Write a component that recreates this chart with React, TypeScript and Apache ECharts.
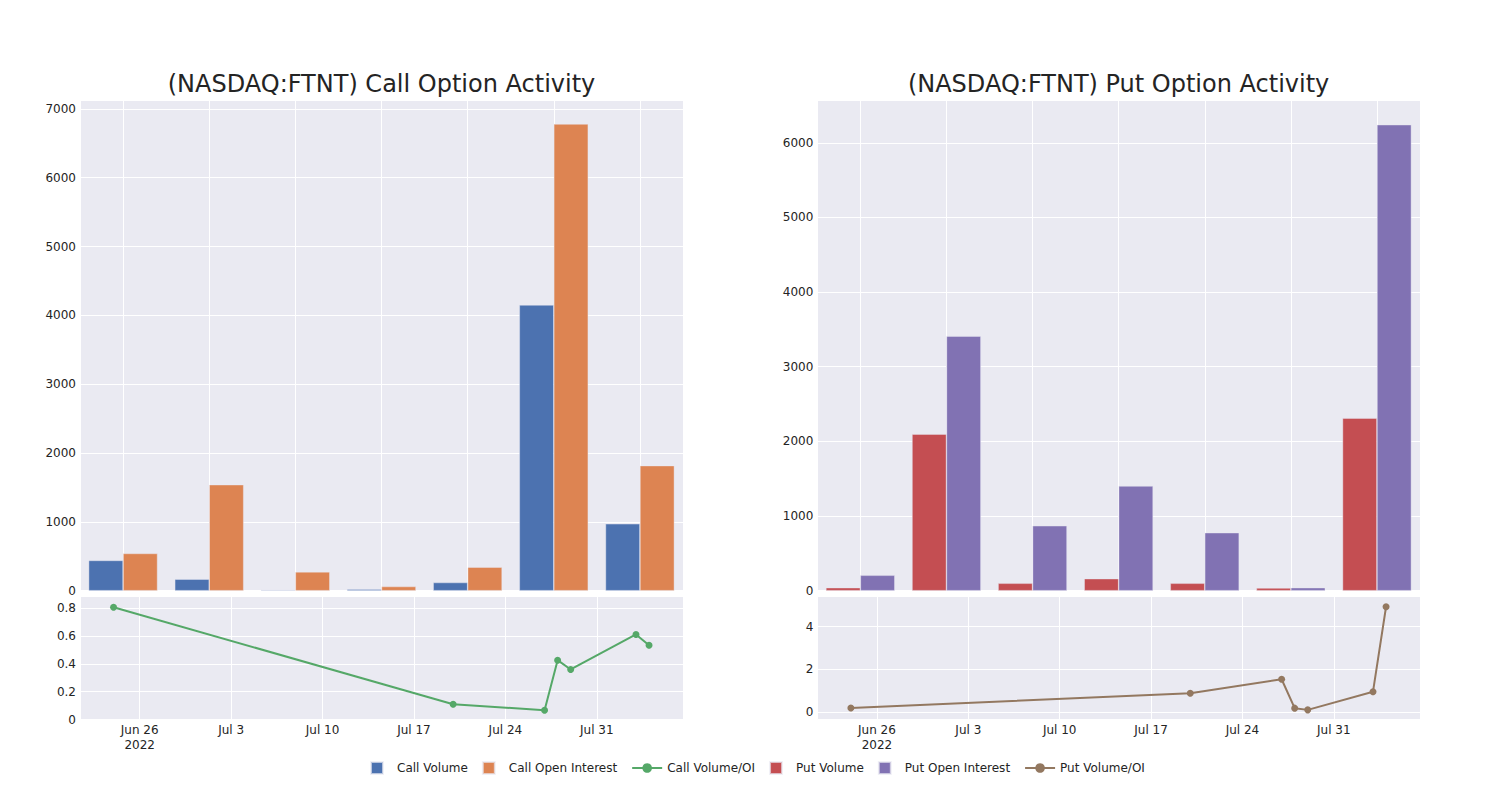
import React, { useEffect, useRef } from "react";
import * as echarts from "echarts";

// ---- data ----
const barSlots = ["W1", "W2", "W3", "W4", "W5", "W6", "W7"];
const callVolume = [440, 167, 12, 22, 119, 4151, 972];
const callOpenInterest = [541, 1540, 274, 61, 342, 6780, 1817];
const putVolume = [40, 2098, 99, 161, 99, 36, 2312];
const putOpenInterest = [206, 3410, 870, 1402, 777, 40, 6242];

const ratioDates = [
  "2022-06-24",
  "2022-07-20",
  "2022-07-27",
  "2022-07-28",
  "2022-07-29",
  "2022-08-03",
  "2022-08-04",
];
const callRatio = [0.808, 0.11, 0.067, 0.427, 0.36, 0.612, 0.535];
const putRatio = [0.2, 0.89, 1.54, 0.19, 0.11, 0.96, 4.93];

const titles = ["(NASDAQ:FTNT) Call Option Activity", "(NASDAQ:FTNT) Put Option Activity"];
const MONTHS = ["Jan", "Feb", "Mar", "Apr", "May", "Jun", "Jul", "Aug", "Sep", "Oct", "Nov", "Dec"];

// ---- style ----
const FONT = "DejaVu Sans";
const TXT = "#242424";
const BG = "#EAEAF2";
const C_BLUE = "#4C72B0";
const C_ORANGE = "#DD8452";
const C_GREEN = "#55A868";
const C_RED = "#C44E52";
const C_PURPLE = "#8172B3";
const C_BROWN = "#937860";

const BASE = Date.UTC(2022, 5, 26);
const DAY = 86400000;
const toDay = (s: string) => {
  const [y, m, d] = s.split("-").map(Number);
  return (Date.UTC(y, m - 1, d) - BASE) / DAY;
};
const isMult = (v: number, step: number) => Math.abs(v / step - Math.round(v / step)) < 1e-6;

const dateLabel = (v: number) => {
  if (!isMult(v, 7)) return "";
  const d = new Date(BASE + Math.round(v) * DAY);
  const s = MONTHS[d.getUTCMonth()] + " " + d.getUTCDate();
  return v === 0 ? s + "\n2022" : s;
};

const SQUARE = "path://M0 0H10V10H0Z";

export default function App() {
  const ref = useRef<HTMLDivElement>(null);
  useEffect(() => {
    if (!ref.current) return;
    const chart = echarts.init(ref.current, null, { renderer: "svg" });

    const grids = [
      { left: 80, top: 100, width: 603, height: 490.7 },
      { left: 80, top: 596.7, width: 603, height: 122.8 },
      { left: 817.3, top: 100, width: 602.7, height: 490.7 },
      { left: 817.3, top: 596.7, width: 602.7, height: 122.8 },
    ].map((g) => ({ ...g, show: true, backgroundColor: BG, borderWidth: 0, containLabel: false }));

    const axisLabelBase = { color: TXT, fontSize: 12, fontFamily: FONT };
    const splitWhite = { show: true, lineStyle: { color: "#ffffff", width: 1 } };

    const catAxis = (gridIndex: number) => ({
      type: "category",
      gridIndex,
      data: barSlots,
      boundaryGap: true,
      axisLabel: { show: false },
      axisTick: { show: false },
      axisLine: { show: false },
      splitLine: { show: false },
    });
    const slotGridAxis = (gridIndex: number) => ({
      type: "value",
      gridIndex,
      min: -0.5,
      max: 6.5,
      minInterval: 1,
      maxInterval: 1,
      axisLabel: { show: false },
      axisTick: { show: false },
      axisLine: { show: false },
      splitLine: splitWhite,
    });
    const dayAxis = (gridIndex: number) => ({
      type: "value",
      gridIndex,
      min: -4.57,
      max: 41.6,
      minInterval: 7,
      maxInterval: 7,
      axisLabel: { ...axisLabelBase, margin: 3, lineHeight: 15, formatter: dateLabel, showMinLabel: false, showMaxLabel: false },
      axisTick: { show: false },
      axisLine: { show: false },
      splitLine: splitWhite,
    });
    const yAxis = (gridIndex: number, min: number, max: number, step: number, dec: number) => ({
      type: "value",
      gridIndex,
      min,
      max,
      minInterval: step,
      maxInterval: step,
      axisLabel: {
        ...axisLabelBase,
        margin: 4,
        formatter: (v: number) => (isMult(v, step) ? String(Number(v.toFixed(dec))) : ""),
      },
      axisTick: { show: false },
      axisLine: { show: false },
      splitLine: splitWhite,
    });

    const barStyle = (color: string) => ({
      color,
      borderColor: "rgba(234,234,242,0.7)",
      borderWidth: 0.6,
    });

    const lineSeries = (name: string, vals: number[], color: string, xi: number, yi: number) => ({
      name,
      type: "line",
      xAxisIndex: xi,
      yAxisIndex: yi,
      data: ratioDates.map((d, i) => [toDay(d), vals[i]]),
      symbol: "circle",
      symbolSize: 7,
      showSymbol: true,
      lineStyle: { color, width: 2 },
      itemStyle: { color },
    });

    const option = {
      animation: false,
      textStyle: { fontFamily: FONT },
      grid: grids,
      graphic: titles.map((t, i) => ({
        type: "text",
        x: i === 0 ? 381.5 : 1118.6,
        y: 84,
        style: {
          text: t,
          fontSize: 24,
          fontFamily: FONT,
          fill: TXT,
          align: "center",
          verticalAlign: "middle",
        },
      })),
      xAxis: [catAxis(0), slotGridAxis(0), dayAxis(1), catAxis(2), slotGridAxis(2), dayAxis(3)],
      yAxis: [
        yAxis(0, 0, 7129, 1000, 0),
        yAxis(1, 0, 0.884, 0.2, 1),
        yAxis(2, 0, 6573, 1000, 0),
        yAxis(3, -0.34, 5.4, 2, 0),
      ],
      legend: {
        top: 761,
        left: 370,
        padding: 0,
        itemWidth: 30,
        itemHeight: 12,
        itemGap: 14,
        textStyle: { color: TXT, fontSize: 12, fontFamily: FONT },
        data: [
          { name: "Call Volume", icon: SQUARE },
          { name: "Call Open Interest", icon: SQUARE },
          { name: "Call Volume/OI" },
          { name: "Put Volume", icon: SQUARE },
          { name: "Put Open Interest", icon: SQUARE },
          { name: "Put Volume/OI" },
        ],
      },
      series: [
        {
          name: "Call Volume",
          type: "bar",
          xAxisIndex: 0,
          yAxisIndex: 0,
          data: callVolume,
          barGap: "0%",
          barCategoryGap: "20%",
          itemStyle: barStyle(C_BLUE),
        },
        {
          name: "Call Open Interest",
          type: "bar",
          xAxisIndex: 0,
          yAxisIndex: 0,
          data: callOpenInterest,
          barGap: "0%",
          barCategoryGap: "20%",
          itemStyle: barStyle(C_ORANGE),
        },
        lineSeries("Call Volume/OI", callRatio, C_GREEN, 2, 1),
        {
          name: "Put Volume",
          type: "bar",
          xAxisIndex: 3,
          yAxisIndex: 2,
          data: putVolume,
          barGap: "0%",
          barCategoryGap: "20%",
          itemStyle: barStyle(C_RED),
        },
        {
          name: "Put Open Interest",
          type: "bar",
          xAxisIndex: 3,
          yAxisIndex: 2,
          data: putOpenInterest,
          barGap: "0%",
          barCategoryGap: "20%",
          itemStyle: barStyle(C_PURPLE),
        },
        lineSeries("Put Volume/OI", putRatio, C_BROWN, 5, 3),
      ],
    };

    chart.setOption(option as any);
    return () => chart.dispose();
  }, []);

  return (
    <div
      ref={ref}
      style={{ position: "absolute", left: 0, top: 0, width: 1500, height: 800, background: "#ffffff" }}
    />
  );
}
